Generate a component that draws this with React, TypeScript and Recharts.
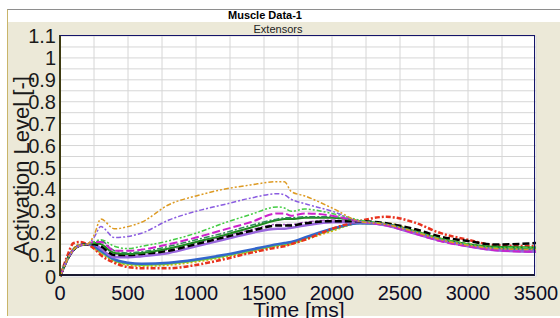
import { CartesianGrid, Line, LineChart, XAxis, YAxis } from "recharts";

const times = [0, 50, 100, 150, 200, 250, 300, 400, 500, 600, 800, 1000, 1200, 1400, 1600, 1650, 1700, 1800, 2000, 2200, 2400, 2600, 2800, 3000, 3200, 3500];

const orange = [0, 0.075, 0.125, 0.145, 0.15, 0.19, 0.265, 0.22, 0.23, 0.25, 0.33, 0.37, 0.4, 0.42, 0.435, 0.435, 0.39, 0.37, 0.315, 0.255, 0.24, 0.207, 0.17, 0.145, 0.13, 0.125];
const violetHi = [0, 0.075, 0.125, 0.145, 0.15, 0.18, 0.23, 0.18, 0.185, 0.2, 0.26, 0.3, 0.33, 0.36, 0.38, 0.375, 0.355, 0.335, 0.3, 0.255, 0.24, 0.207, 0.17, 0.145, 0.128, 0.12];
const limeDashDot = [0, 0.075, 0.125, 0.145, 0.15, 0.16, 0.17, 0.14, 0.13, 0.14, 0.165, 0.2, 0.245, 0.285, 0.32, 0.315, 0.3, 0.31, 0.29, 0.26, 0.24, 0.21, 0.175, 0.15, 0.135, 0.135];
const magenta = [0, 0.075, 0.125, 0.145, 0.15, 0.16, 0.16, 0.12, 0.12, 0.125, 0.15, 0.18, 0.215, 0.25, 0.29, 0.29, 0.28, 0.29, 0.28, 0.255, 0.235, 0.2, 0.163, 0.14, 0.122, 0.115];
const darkGreen = [0, 0.075, 0.125, 0.145, 0.15, 0.155, 0.15, 0.11, 0.105, 0.11, 0.13, 0.16, 0.19, 0.225, 0.26, 0.265, 0.265, 0.27, 0.27, 0.255, 0.24, 0.21, 0.173, 0.15, 0.138, 0.135];
const seaGreen = [0, 0.075, 0.125, 0.145, 0.15, 0.16, 0.165, 0.12, 0.11, 0.115, 0.14, 0.17, 0.2, 0.235, 0.265, 0.27, 0.27, 0.275, 0.275, 0.255, 0.24, 0.208, 0.17, 0.147, 0.13, 0.128];
const black = [0, 0.075, 0.125, 0.145, 0.15, 0.15, 0.14, 0.1, 0.1, 0.105, 0.12, 0.15, 0.18, 0.21, 0.235, 0.235, 0.235, 0.245, 0.255, 0.255, 0.245, 0.22, 0.184, 0.164, 0.148, 0.155];
const violetLo = [0, 0.075, 0.125, 0.145, 0.15, 0.15, 0.13, 0.09, 0.09, 0.095, 0.11, 0.14, 0.17, 0.2, 0.22, 0.22, 0.225, 0.235, 0.25, 0.25, 0.235, 0.2, 0.165, 0.14, 0.122, 0.115];
const orchid = [0, 0.075, 0.125, 0.145, 0.15, 0.16, 0.15, 0.105, 0.1, 0.105, 0.125, 0.155, 0.185, 0.215, 0.24, 0.24, 0.24, 0.25, 0.26, 0.252, 0.238, 0.205, 0.168, 0.142, 0.125, 0.12];
const blue = [0, 0.075, 0.125, 0.145, 0.15, 0.14, 0.12, 0.08, 0.065, 0.06, 0.065, 0.08, 0.1, 0.125, 0.15, 0.155, 0.16, 0.18, 0.22, 0.245, 0.24, 0.207, 0.17, 0.145, 0.128, 0.122];
const lime = [0, 0.075, 0.125, 0.145, 0.15, 0.135, 0.115, 0.075, 0.06, 0.055, 0.06, 0.075, 0.095, 0.12, 0.145, 0.15, 0.155, 0.175, 0.215, 0.245, 0.242, 0.21, 0.175, 0.15, 0.135, 0.132];
const gold = [0, 0.08, 0.13, 0.15, 0.15, 0.13, 0.11, 0.07, 0.055, 0.05, 0.055, 0.07, 0.09, 0.115, 0.14, 0.145, 0.15, 0.17, 0.21, 0.245, 0.245, 0.212, 0.176, 0.15, 0.135, 0.13];
const red = [0, 0.09, 0.155, 0.16, 0.15, 0.13, 0.1, 0.065, 0.045, 0.04, 0.04, 0.055, 0.08, 0.11, 0.135, 0.14, 0.15, 0.17, 0.22, 0.255, 0.275, 0.25, 0.2, 0.17, 0.145, 0.14];

const xTicks = [0, 250, 500, 750, 1000, 1250, 1500, 1750, 2000, 2250, 2500, 2750, 3000, 3250, 3500];
const yTicks = [0, 0.05, 0.1, 0.15, 0.2, 0.25, 0.3, 0.35, 0.4, 0.45, 0.5, 0.55, 0.6, 0.65, 0.7, 0.75, 0.8, 0.85, 0.9, 0.95, 1, 1.05, 1.1];

const series = [
  { key: "gold", values: gold, color: "#d8b400", dash: "2 2", width: 2 },
  { key: "lime", values: lime, color: "#66cc44", dash: undefined, width: 2 },
  { key: "blue", values: blue, color: "#3366cc", dash: undefined, width: 2.5 },
  { key: "red", values: red, color: "#e8321e", dash: "5 2 2 2", width: 2.5 },
  { key: "violetLo", values: violetLo, color: "#9966dd", dash: undefined, width: 2.5 },
  { key: "orchid", values: orchid, color: "#b05ccc", dash: "5 2 2 2", width: 1.5 },
  { key: "black", values: black, color: "#000000", dash: "7 3", width: 2.5 },
  { key: "darkGreen", values: darkGreen, color: "#1f8a1f", dash: undefined, width: 2 },
  { key: "seaGreen", values: seaGreen, color: "#2e8b57", dash: "6 2 2 2", width: 1.5 },
  { key: "magenta", values: magenta, color: "#cc22cc", dash: "8 3", width: 2 },
  { key: "limeDashDot", values: limeDashDot, color: "#44cc44", dash: "5 2 2 2 2 2", width: 1.5 },
  { key: "violetHi", values: violetHi, color: "#8a5ce0", dash: "5 2 2 2", width: 1.5 },
  { key: "orange", values: orange, color: "#dd9a22", dash: "5 2 2 2 2 2", width: 1.5 },
];

const data = times.map((t, i) => {
  const row: Record<string, number> = { t };
  series.forEach((s) => {
    row[s.key] = s.values[i];
  });
  return row;
});

const font = "'Liberation Sans', Arial, sans-serif";

function yLabel(v: number): string {
  const r = Math.round(v * 100);
  return r % 10 === 0 ? String(r / 100) : "";
}

function xLabel(v: number): string {
  return v % 500 === 0 ? String(v) : "";
}

export default function App() {
  return (
    <div
      style={{
        position: "absolute",
        left: 0,
        top: 0,
        width: 560,
        height: 318,
        background: "#ffffff",
        overflow: "hidden",
        fontFamily: font,
      }}
    >
      <div
        style={{
          position: "absolute",
          left: 7,
          top: 9,
          width: 553,
          height: 307,
          background: "#ece9d8",
          borderTop: "1px solid #8e8e8e",
          borderLeft: "1px solid #c9b56a",
          boxSizing: "border-box",
        }}
      />
      <div
        style={{
          position: "absolute",
          left: 8,
          top: 10,
          width: 552,
          height: 12,
          background: "#ffffff",
        }}
      />
      <div
        style={{
          position: "absolute",
          left: 165,
          top: 9,
          width: 200,
          textAlign: "center",
          fontSize: 11,
          fontWeight: "bold",
          color: "#000000",
          lineHeight: "13px",
        }}
      >
        Muscle Data-1
      </div>
      <div
        style={{
          position: "absolute",
          left: 178,
          top: 23,
          width: 200,
          textAlign: "center",
          fontSize: 11,
          color: "#222222",
          lineHeight: "12px",
        }}
      >
        Extensors
      </div>
      <div style={{ position: "absolute", left: 0, top: 0 }}>
        <LineChart
          width={560}
          height={318}
          data={data}
          margin={{ top: 36, right: 24, bottom: 40, left: 59 }}
          style={{ fontFamily: font }}
        >
          <CartesianGrid stroke="#d6d6d6" strokeWidth={1} fill="#ffffff" />
          <XAxis
            dataKey="t"
            type="number"
            domain={[0, 3500]}
            ticks={xTicks}
            tickFormatter={xLabel}
            interval={0}
            height={1}
            tickLine={false}
            tickSize={0}
            tickMargin={9}
            axisLine={false}
            tick={{ fontSize: 20, fill: "#0d0d26" }}
            allowDataOverflow
          />
          <YAxis
            type="number"
            domain={[0, 1.1]}
            ticks={yTicks}
            tickFormatter={yLabel}
            interval={0}
            width={1}
            tickLine={false}
            tickSize={0}
            tickMargin={4}
            axisLine={false}
            tick={{ fontSize: 20, fill: "#1a1a1a" }}
            allowDataOverflow
          />
          {series.map((s) => (
            <Line
              key={s.key}
              type="monotone"
              dataKey={s.key}
              stroke={s.color}
              strokeWidth={s.width}
              strokeDasharray={s.dash}
              dot={false}
              isAnimationActive={false}
            />
          ))}
        </LineChart>
      </div>
      <div
        style={{
          position: "absolute",
          left: 60,
          top: 36,
          width: 476,
          height: 241,
          borderTop: "1px solid #14146a",
          borderRight: "1px solid #14146a",
          borderBottom: "2px solid #1a1a30",
          borderLeft: "2px solid #3d3a10",
          boxSizing: "border-box",
          transform: "translate(-1px, -1px)",
          pointerEvents: "none",
        }}
      />
      <div
        style={{
          position: "absolute",
          left: 22,
          top: 166,
          transform: "translate(-50%, -50%) rotate(-90deg)",
          whiteSpace: "nowrap",
          fontSize: 22,
          color: "#1a1a1a",
          lineHeight: "24px",
        }}
      >
        Activation Level [-]
      </div>
      <div
        style={{
          position: "absolute",
          left: 199,
          top: 299,
          width: 200,
          textAlign: "center",
          whiteSpace: "nowrap",
          fontSize: 21,
          color: "#0d0d26",
          lineHeight: "22px",
        }}
      >
        Time [ms]
      </div>
    </div>
  );
}
